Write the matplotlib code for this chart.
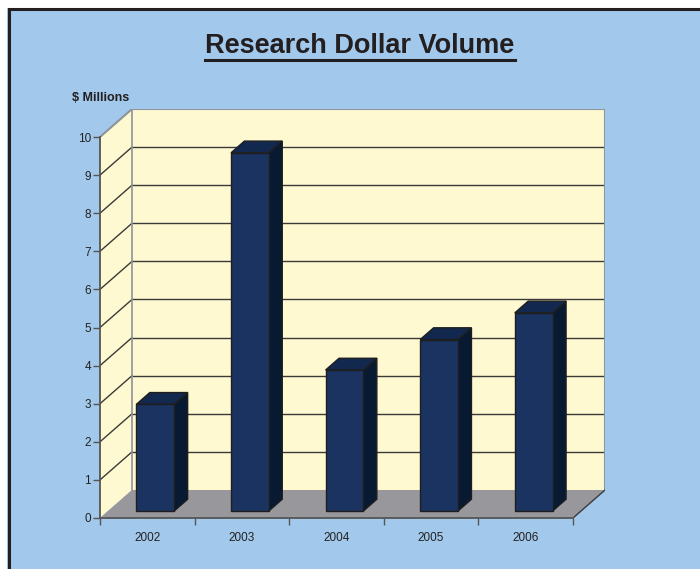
import matplotlib
matplotlib.use("Agg")
import matplotlib.pyplot as plt
from matplotlib.patches import Polygon, Rectangle
from matplotlib.lines import Line2D

plt.rcParams['font.family'] = ['Liberation Sans', 'DejaVu Sans']

years = ['2002', '2003', '2004', '2005', '2006']
values = [2.8, 9.4, 3.7, 4.5, 5.2]
yticks = list(range(0, 11))

BG = '#A2C8EB'
WALL = '#FEF9D0'
FLOOR = '#98989C'
FRONT = '#1B3360'
SIDE = '#081A31'
TOP = '#13284F'
GRID = '#3A3A3A'
EDGE = '#8E939C'

# depth offset of the back wall in data units
DX, DY = 0.338, 0.735
D0, D1 = 0.25, 0.67   # bar front/back depth fractions
BW = 0.40

fig = plt.figure(figsize=(7, 5.69), dpi=100)
fig.patch.set_facecolor('white')
W, H = 700, 569
fig.patches.append(Rectangle((7 / W, 0), 1, (H - 8) / H, transform=fig.transFigure,
                             facecolor=BG, edgecolor='none', zorder=-5))
fig.lines.append(Line2D([8.5 / W, 8.5 / W, 1], [0, (H - 8.5) / H, (H - 8.5) / H],
                        transform=fig.transFigure, color='#231F20', lw=2.2,
                        solid_joinstyle='miter', zorder=-4))

ax = fig.add_axes([100 / W, 51 / H, 505 / W, 409 / H])
ax.set_zorder(1)
ax.set_xlim(0, 5 + DX)
ax.set_ylim(0, 10 + DY)
ax.patch.set_alpha(0)

n = len(years)
# back wall, side wall and floor
ax.add_patch(Rectangle((DX, DY), n, 10, facecolor=WALL, edgecolor='none', zorder=1))
ax.add_patch(Polygon([(0, 0), (DX, DY), (DX, 10 + DY), (0, 10)], facecolor=WALL,
                     edgecolor='none', zorder=1))
ax.add_patch(Polygon([(0, 0), (n, 0), (n + DX, DY), (DX, DY)], facecolor=FLOOR,
                     edgecolor='none', zorder=1))

for v in yticks[1:-1]:
    ax.plot([DX, n + DX], [v + DY, v + DY], color=GRID, lw=1, zorder=2)
    ax.plot([0, DX], [v, v + DY], color=GRID, lw=1, zorder=2)

# wall outlines
ax.plot([0, DX, n + DX, n + DX], [10, 10 + DY, 10 + DY, DY], color=EDGE, lw=1.5, zorder=2)
ax.plot([DX, DX], [DY, 10 + DY], color=EDGE, lw=1.2, zorder=2)
ax.plot([n, n + DX], [0, DY], color='#3A3A3A', lw=1, zorder=2)

# bars
for i, v in enumerate(values):
    x0 = i + 0.5 - BW / 2
    x1 = i + 0.5 + BW / 2
    fx0, fx1 = x0 + D0 * DX, x1 + D0 * DX
    bx0, bx1 = x0 + D1 * DX, x1 + D1 * DX
    fy, by = D0 * DY, D1 * DY
    ax.add_patch(Polygon([(fx1, fy), (bx1, by), (bx1, v + by), (fx1, v + fy)],
                         facecolor=SIDE, edgecolor='#1E1E1E', lw=1, zorder=3))
    ax.add_patch(Polygon([(fx0, v + fy), (fx1, v + fy), (bx1, v + by), (bx0, v + by)],
                         facecolor=TOP, edgecolor='#1E1E1E', lw=1, zorder=3))
    ax.add_patch(Rectangle((fx0, fy), BW, v, facecolor=FRONT, edgecolor='#1E1E1E',
                           lw=1, zorder=4))

# axes
for s in ['top', 'right']:
    ax.spines[s].set_visible(False)
ax.spines['left'].set_bounds(0, 10)
ax.spines['bottom'].set_bounds(0, n)
for s in ['left', 'bottom']:
    ax.spines[s].set_color('#555555')
    ax.spines[s].set_linewidth(1.3)
    ax.spines[s].set_zorder(5)
ax.set_yticks(yticks)
ax.set_yticklabels([str(t) for t in yticks])
ax.set_xticks(range(n + 1))
ax.set_xticklabels([])
ax.set_xticks([i + 0.5 for i in range(n)], minor=True)
ax.set_xticklabels(years, minor=True)
ax.tick_params(axis='y', length=5, width=1, color='#555555', pad=1.5, labelsize=8.5, labelcolor='#222222')
ax.tick_params(axis='x', which='major', length=5, width=1, color='#555555')
ax.tick_params(axis='x', which='minor', length=0, pad=10, labelsize=8.5, labelcolor='#222222')

fig.text(72 / W, 1 - 98 / H, '$ Millions', fontsize=9, fontweight='bold', color='#231F20',
         ha='left', va='center')

title = fig.text(360 / W, 1 - 46 / H, 'Research Dollar Volume', fontsize=19.5, fontweight='bold',
                 color='#231F20', ha='center', va='center')
fig.canvas.draw()
bb = title.get_window_extent()
uy = (bb.y0 - 1) / H
fig.lines.append(Line2D([bb.x0 / W, bb.x1 / W], [uy, uy], transform=fig.transFigure,
                        color='#231F20', lw=2.2))

fig.savefig('out.png', dpi=100, facecolor=fig.get_facecolor())
